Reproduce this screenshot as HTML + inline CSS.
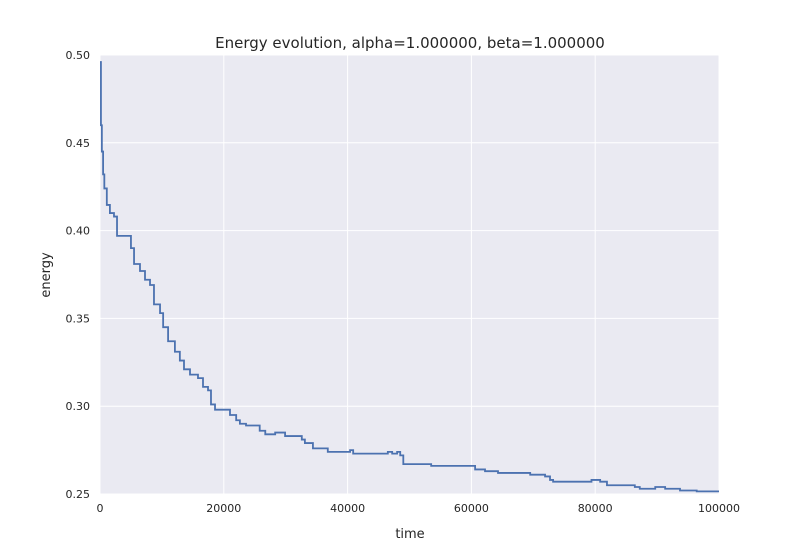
<!DOCTYPE html>
<html><head><meta charset="utf-8"><style>
body{margin:0;background:#fff;width:800px;height:550px;overflow:hidden;font-family:"DejaVu Sans","Liberation Sans",sans-serif}
</style></head><body>
<svg id="chart" width="800" height="550" font-family="DejaVu Sans, Liberation Sans, sans-serif"></svg>
<script>
const times=[0,150,300,500,700,1100,1600,2260,2750,4700,5000,5500,6460,7270,8080,8720,9700,10200,11000,12100,12900,13570,14540,15830,16640,17450,17930,18580,21000,22000,22600,23590,25800,26700,28300,29900,32600,33100,34400,36800,40400,40900,46500,47200,48000,48500,49000,53500,60600,62200,64300,69500,71900,72700,73200,79400,80800,81900,86400,87200,89700,91300,93700,96400];
const energies=[0.496,0.46,0.445,0.432,0.424,0.4146,0.41,0.408,0.397,0.397,0.39,0.381,0.377,0.372,0.369,0.358,0.353,0.345,0.337,0.331,0.326,0.321,0.318,0.316,0.311,0.309,0.301,0.298,0.295,0.292,0.29,0.289,0.286,0.284,0.285,0.283,0.281,0.279,0.276,0.274,0.275,0.273,0.274,0.273,0.274,0.272,0.267,0.266,0.264,0.263,0.262,0.261,0.26,0.258,0.257,0.258,0.257,0.255,0.254,0.253,0.254,0.253,0.252,0.2515];
const xTicks=[0,20000,40000,60000,80000,100000];
const yTicks=[0.25,0.30,0.35,0.40,0.45,0.50];
const L=100,R=719,T=55,B=494;
const xs=v=>L+(v-0)/100000*(R-L);
const ys=v=>B-(v-0.25)/0.25*(B-T);
const NS="http://www.w3.org/2000/svg";
const svg=document.getElementById('chart');
function mk(tag,a,parent){const e=document.createElementNS(NS,tag);for(const k in a)e.setAttribute(k,a[k]);(parent||svg).appendChild(e);return e;}
const bg=mk('rect',{x:L,y:T,width:R-L,height:B-T,fill:'#eaeaf2'});


xTicks.forEach(t=>{
 const g=mk('line',{x1:xs(t),x2:xs(t),y1:T,y2:B,stroke:'#fff','stroke-width':1});
 
 
 const tx=mk('text',{x:xs(t),y:B+18,'text-anchor':'middle','font-size':11,fill:'#262626'});
 tx.textContent=t;
 
 
});
yTicks.forEach(t=>{
 const g=mk('line',{x1:L,x2:R,y1:ys(t),y2:ys(t),stroke:'#fff','stroke-width':1});
 
 
 const tx=mk('text',{x:L-10,y:ys(t)+4,'text-anchor':'end','font-size':11,fill:'#262626'});
 tx.textContent=t.toFixed(2);
 
 
});
let d='M'+xs(times[0])+','+ys(energies[0]);
for(let i=1;i<times.length;i++){d+=' H'+xs(times[i])+' V'+ys(energies[i]);}
d+=' H'+xs(100000);
const line=mk('path',{d:d,fill:'none',stroke:'#4c72b0','stroke-width':1.8});


const title=mk('text',{x:410,y:48,'text-anchor':'middle','font-size':15,fill:'#262626'});
title.textContent='Energy evolution, alpha=1.000000, beta=1.000000';


const xl=mk('text',{x:410,y:538,'text-anchor':'middle','font-size':13,fill:'#262626'});
xl.textContent='time';


const yl=mk('text',{x:50,y:275,'text-anchor':'middle','font-size':13,fill:'#262626',transform:'rotate(-90 50 275)'});
yl.textContent='energy';


</script>
</body></html>
